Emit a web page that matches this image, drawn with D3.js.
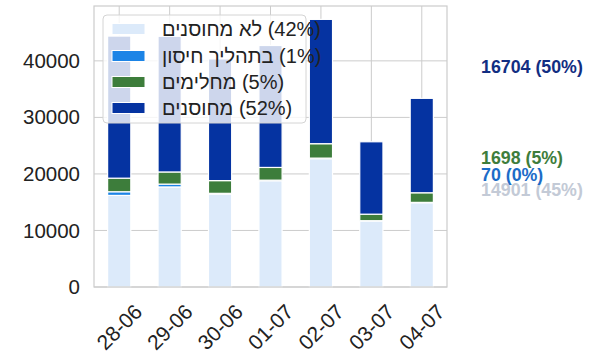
<!DOCTYPE html>
<html><head><meta charset="utf-8">
<script src="https://cdn.jsdelivr.net/npm/d3@7"></script>
<style>
html,body{margin:0;padding:0;background:#fff;}
svg{display:block;font-family:"Liberation Sans",Arial,sans-serif;}
</style></head>
<body><svg id="chart" width="600" height="359"></svg>
<script>
const dates = ["28-06","29-06","30-06","01-07","02-07","03-07","04-07"];
const unvaccinated = [16200, 17700, 16450, 18800, 22700, 11650, 14901];
const inProcess    = [650, 500, 120, 100, 100, 80, 70];
const recovered    = [2400, 2150, 2250, 2250, 2550, 1150, 1698];
const vaccinated   = [25140, 24000, 21530, 21570, 21990, 12810, 16704];
const seriesNames  = ["לא מחוסנים", "בתהליך חיסון", "מחלימים", "מחוסנים"];
const legendPct    = ["42%", "1%", "5%", "52%"];
const yTicks       = [0, 10000, 20000, 30000, 40000];

const colors = ["#dceafa", "#1c84e6", "#3d7d3b", "#0533a1"];
const labelColors = ["#c3cad6", "#1c6cc8", "#3e7d3c", "#122e82"];

const series = [unvaccinated, inProcess, recovered, vaccinated];
const rows = dates.map((d, i) => ({date: d, s0: series[0][i], s1: series[1][i], s2: series[2][i], s3: series[3][i]}));
const keys = ["s0","s1","s2","s3"];
const stack = d3.stack().keys(keys)(rows);

const svg = d3.select("#chart");
const L = 94, R = 447, T = 6, B = 287;
const totals = rows.map(r => r.s0 + r.s1 + r.s2 + r.s3);
const x = d3.scaleBand().domain(dates).range([L, R]).paddingInner(0.54).paddingOuter(0.27);
const y = d3.scaleLinear().domain([0, d3.max(totals) * 1.05]).range([B, T]);

// grid
const grid = svg.append("g");
grid.selectAll("line.h").data(yTicks).join("line")
  .attr("x1", L).attr("x2", R).attr("y1", d => y(d)).attr("y2", d => y(d))
  .attr("stroke", "#cccccc").attr("stroke-width", 1);
grid.selectAll("line.v").data(dates).join("line")
  .attr("x1", d => x(d) + x.bandwidth()/2).attr("x2", d => x(d) + x.bandwidth()/2)
  .attr("y1", T).attr("y2", B)
  .attr("stroke", "#cccccc").attr("stroke-width", 1);

// bars
svg.append("g").selectAll("g").data(stack).join("g")
  .attr("fill", (d, i) => colors[i])
  .selectAll("rect").data(d => d).join("rect")
  .attr("x", d => x(d.data.date))
  .attr("width", x.bandwidth())
  .attr("y", d => y(d[1]))
  .attr("height", d => y(d[0]) - y(d[1]))
  .attr("stroke", "#ffffff").attr("stroke-width", 1.2);

// frame
svg.append("rect").attr("x", L).attr("y", T).attr("width", R - L).attr("height", B - T)
  .attr("fill", "none").attr("stroke", "#cccccc").attr("stroke-width", 1.2);

// y axis labels
const yAxis = d3.axisLeft(y).tickValues(yTicks).tickSize(0).tickPadding(14).tickFormat(d3.format("d"));
const ya = svg.append("g").attr("transform", `translate(${L},0)`).call(yAxis);
ya.select(".domain").remove();
ya.selectAll("text").attr("font-size", 20.5).attr("fill", "#222").attr("font-family", "Liberation Sans, Arial, sans-serif");

// x axis labels (rotated)
const xAxis = d3.axisBottom(x).tickSize(0).tickPadding(0);
const xa = svg.append("g").attr("transform", `translate(0,${B})`).call(xAxis);
xa.select(".domain").remove();
xa.selectAll("text")
  .attr("font-size", 21).attr("fill", "#222").attr("font-family", "Liberation Sans, Arial, sans-serif")
  .attr("text-anchor", "middle").attr("dominant-baseline", "central")
  .attr("y", 0).attr("dy", null)
  .attr("transform", "translate(0,40) rotate(-45)");

// legend
const lg = svg.append("g");
lg.append("rect").attr("x", 103).attr("y", 15).attr("width", 203).attr("height", 108).attr("rx", 4)
  .attr("fill", "#ffffff").attr("fill-opacity", 0.8).attr("stroke", "#d4d4d4");
const rowY = [29, 56, 82, 108];
seriesNames.forEach((n, i) => {
  lg.append("rect").attr("x", 112).attr("y", rowY[i] - 5.5).attr("width", 33).attr("height", 11)
    .attr("fill", colors[i]).attr("stroke", "#fff").attr("stroke-width", 1);
  lg.append("text").attr("x", 162).attr("y", rowY[i]).attr("dominant-baseline", "central")
    .attr("font-size", 20).attr("fill", "#222")
    .text(n + "\u200E (" + legendPct[i] + ")");
});

// right-side labels for the last day
const last = rows[rows.length - 1];
const lastTotal = totals[totals.length - 1];
const labelY = [190, 175, 158, 67];
const rl = svg.append("g");
keys.forEach((k, i) => {
  const v = last[k];
  rl.append("text").attr("x", 481).attr("y", labelY[i]).attr("dominant-baseline", "central")
    .attr("font-size", 17.8).attr("font-weight", "bold").attr("fill", labelColors[i])
    .text(v + " (" + Math.round(100 * v / lastTotal) + "%)");
});
</script></body></html>
